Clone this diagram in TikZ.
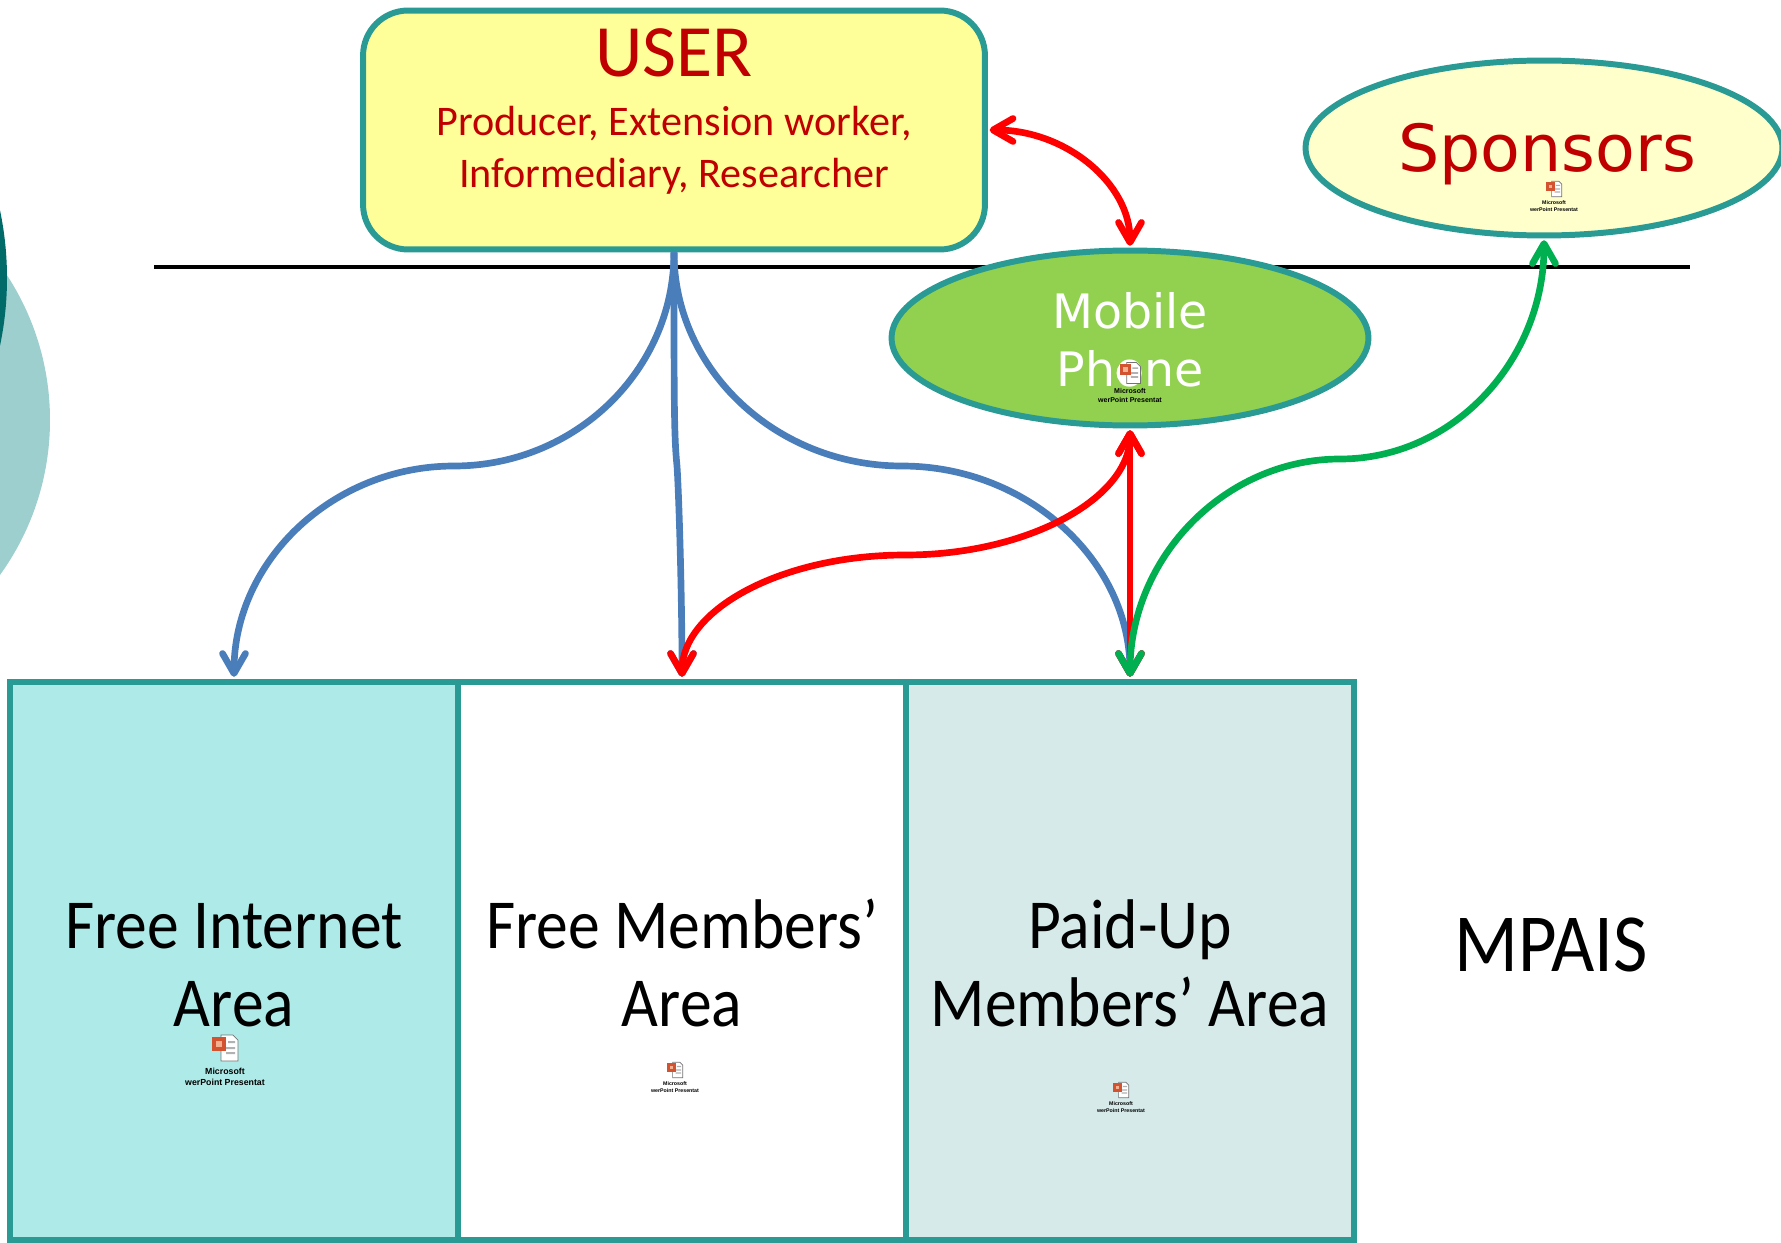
\documentclass[tikz,border=0pt]{standalone}
\usepackage{fontspec}
\usepackage{tikz}
\usetikzlibrary{shapes.geometric,arrows.meta}
\setmainfont{Carlito}
\newfontfamily\narrowface[FakeStretch=0.905]{Carlito}
\newfontfamily\wideface{DejaVu Sans}
\newfontfamily\iconface{Liberation Sans}

\definecolor{tealline}{HTML}{2A9A94}
\definecolor{userfill}{HTML}{FFFF99}
\definecolor{sponsorfill}{HTML}{FFFFCC}
\definecolor{phonefill}{HTML}{92D050}
\definecolor{freefill}{HTML}{AEEBE8}
\definecolor{paidfill}{HTML}{D6EAEA}
\definecolor{darkred}{HTML}{C00000}
\definecolor{linkblue}{HTML}{4A7EBB}
\definecolor{linkgreen}{HTML}{00B050}
\definecolor{sidelight}{HTML}{9CCFCD}
\definecolor{sidedark}{HTML}{006B68}
\definecolor{iconorange}{HTML}{D35230}
\definecolor{iconpale}{HTML}{F4B08F}

\tikzset{
	areabox/.style={draw=tealline, line width=3.4pt, minimum width=8.96cm, minimum height=11.18cm, inner sep=0pt},
	oval/.style={ellipse, draw=tealline, line width=3.4pt, minimum width=9.54cm, minimum height=3.5cm, inner sep=0pt},
	arealabel/.style={anchor=base, font=\narrowface\fontsize{40}{40}\selectfont},
	redlabel/.style={anchor=base, text=darkred},
	link/.style={line width=3.8pt, shorten >=1pt, shorten <=1pt, >={Straight Barb[round, length=0.4cm, width=0.46cm]}},
	pptfile/.pic={
		\fill[white, draw=black!55, line width=0.4pt] (-4,-13) -- (8,-13) -- (13,-8) -- (13,13) -- (-4,13) -- cycle;
		\fill[black!30] (1,6) rectangle (10,4) (1,1) rectangle (10,-1) (3,-5) rectangle (10,-7);
		\fill[iconorange] (-13,-11) rectangle (1,3);
		\fill[iconpale] (-9,-7) rectangle (-3,-1);
		\node[transform shape, font=\iconface\bfseries\fontsize{5}{5}\selectfont, anchor=base] (-topline) at (0,26) {Microsoft};
		\node[transform shape, font=\iconface\bfseries\fontsize{5}{5}\selectfont, anchor=base] (-bottomline) at (0,37) {werPoint Presentat};
	}
}

\begin{document}
\begin{tikzpicture}[x=0.02cm, y=-0.02cm]
		\useasboundingbox (0,0) rectangle (1781,1243);
		\clip (0,0) rectangle (1781,1243);

		% circles at the left edge
		\fill[sidelight] (-215,420) circle [radius=265];
		\fill[sidedark] (-321,278) circle [radius=328];

		% rule under the user
		\coordinate (ruleleft) at (154,267);
		\coordinate (ruleright) at (1690,267);
		\draw[line width=1.8pt] (ruleleft) -- (ruleright);

		% shapes
		\node[draw=tealline, line width=3.4pt, fill=userfill, rounded corners=0.9cm, minimum width=12.44cm, minimum height=4.78cm] (user) at (674,130) {};
		\node[oval, fill=phonefill] (phone) at (1130,338) {};
		\node[oval, fill=sponsorfill] (sponsors) at (1544,148) {};
		\node[areabox, fill=freefill] (free) at (234,961) {};
		\node[areabox, fill=white] (members) at (682,961) {};
		\node[areabox, fill=paidfill] (paid) at (1130,961) {};

		% labels
		\node[redlabel, font=\fontsize{42}{42}\selectfont] (usertitle) at (674,77) {USER};
		\node[redlabel, font=\fontsize{24}{24}\selectfont] (userroles) at (674,136) {Producer, Extension worker,};
		\node[redlabel, font=\fontsize{24}{24}\selectfont] (usermore) at (674,188) {Informediary, Researcher};
		\node[anchor=base, text=white, font=\wideface\fontsize{27}{27}\selectfont] (phoneone) at (1130,329) {Mobile};
		\node[anchor=base, text=white, font=\wideface\fontsize{27}{27}\selectfont] (phonetwo) at (1130,386) {Phone};
		\node[redlabel, font=\wideface\fontsize{37}{37}\selectfont] (sponsorname) at (1547,172) {Sponsors};
		\node[arealabel] (freeone) at (234,948) {Free Internet};
		\node[arealabel] (freetwo) at (234,1026) {Area};
		\node[arealabel] (membersone) at (682,948) {Free Members’};
		\node[arealabel] (memberstwo) at (682,1026) {Area};
		\node[arealabel] (paidone) at (1130,948) {Paid-Up};
		\node[arealabel] (paidtwo) at (1130,1026) {Members’ Area};
		\node[anchor=base, font=\narrowface\fontsize{47}{47}\selectfont] (mpais) at (1551,971) {MPAIS};

		% icons
		\node[circle, fill=white, minimum size=0.5cm, inner sep=0pt] (iconspot) at (1129,373) {};
		\pic (freeicon) at (225,1048) {pptfile};
		\pic[scale=0.6] (membersicon) at (675,1070) {pptfile};
		\pic[scale=0.6] (paidicon) at (1121,1090) {pptfile};
		\pic[scale=0.8] (phoneicon) at (1130,373) {pptfile};
		\pic[scale=0.6] (sponsoricon) at (1554,189) {pptfile};

		% midpoints of the curves
		\coordinate (freemid) at (454,466);
		\coordinate (membersmid) at (677,466);
		\coordinate (paidmid) at (902,466);
		\coordinate (redmid) at (905,555);
		\coordinate (greenmid) at (1340,459);

		% blue links
		\draw[link, shorten <=0pt, linkblue, ->] (user.south) .. controls +(0,118) and +(121,0) .. (freemid) .. controls +(-121,0) and +(0,-118) .. (free.north);
		\draw[link, shorten <=0pt, linkblue, ->] (user.south) .. controls +(0,150) and +(-3,-30) .. (membersmid) .. controls +(2,30) and +(0,-80) .. (members.north);
		\draw[link, shorten <=0pt, linkblue, ->] (user.south) .. controls +(0,118) and +(-125,0) .. (paidmid) .. controls +(125,0) and +(0,-118) .. (paid.north);

		% red links
		\draw[link, red, <->] (user.east) .. controls +(78,0) and +(0,-64) .. (phone.north);
		\draw[link, red, <->] (phone.south) .. controls +(0,69) and +(124,0) .. (redmid) .. controls +(-123,0) and +(0,-69) .. (members.north);
		\draw[link, red, <->] (phone.south) -- (paid.north);

		% green link
		\draw[link, linkgreen, <->] (paid.north) .. controls +(0,-121) and +(-115,0) .. (greenmid) .. controls +(114,0) and +(0,121) .. (sponsors.south);

	\end{tikzpicture}
\end{document}
